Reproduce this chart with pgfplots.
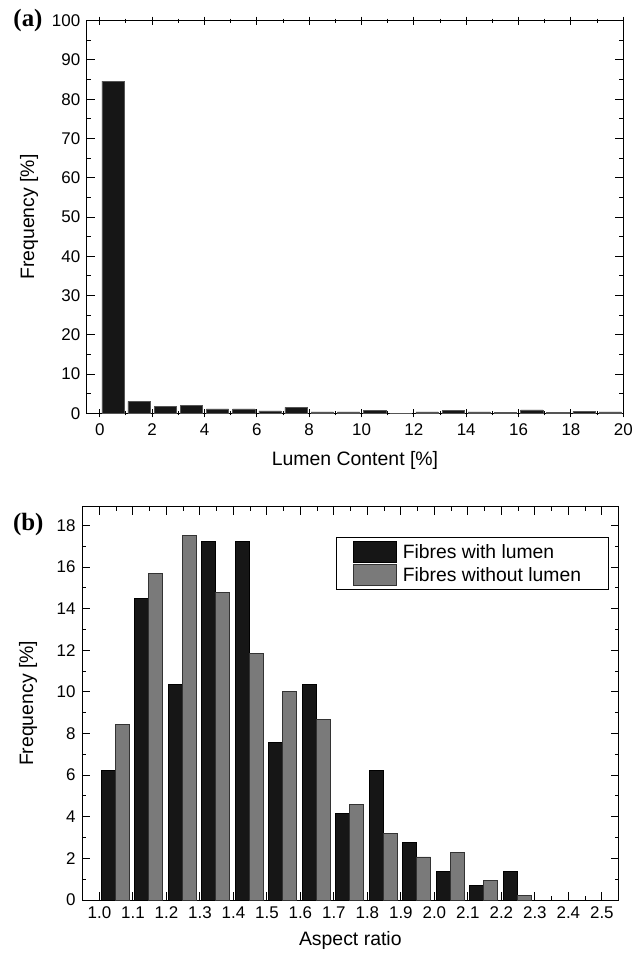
\documentclass[border=0pt]{standalone}
\usepackage{pgfplots}
\pgfplotsset{compat=1.18}
\usepackage{fontspec}
\setmainfont{Liberation Sans}
\newfontfamily\serifbf{Liberation Serif}
\definecolor{barblack}{HTML}{161616}
\definecolor{bargray}{HTML}{7A7A7A}
\definecolor{edgegray}{HTML}{555555}

\pgfplotsset{
  common/.style={
    scale only axis,
    width=536.6bp,
    axis line style={line width=1bp},
    tick pos=both,
    major tick length=8bp, minor tick length=4bp,
    every tick/.style={black, line width=1bp},
    tick label style={font=\fontsize{17}{17}\selectfont},
    /pgf/number format/assume math mode=true,
    yticklabel style={xshift=-3bp},
  }
}

\begin{document}
\begin{tikzpicture}
\path[use as bounding box] (0bp,0bp) rectangle (644bp,-956bp);

% ---------------- panel (a)
\begin{axis}[
  common,
  at={(86.7bp,-413.3bp)}, anchor=south west,
  height=392.6bp,
  xmin=-0.5, xmax=20, ymin=0, ymax=100,
  xtick={0,2,...,20}, minor xtick={1,3,...,19},
  ytick={0,10,...,100}, minor ytick={5,15,...,95},
  xtick align=center, ytick align=inside,
  xticklabel style={yshift=-3bp},
  xlabel={Lumen Content [\%]},
  ylabel={Frequency [\%]},
  every axis x label/.style={at={(rel axis cs:0.5,0)}, anchor=center, yshift=-47bp,
      font=\fontsize{19.5}{20}\selectfont},
  every axis y label/.style={at={(rel axis cs:0,0.5)}, anchor=center, xshift=-57.7bp, rotate=90,
      font=\fontsize{19.5}{20}\selectfont},
]
\addplot[ybar, bar width=0.85, bar shift=0pt, fill=barblack, draw=edgegray, line width=0.5bp]
coordinates {
(0.5,84.64) (1.5,3.05) (2.5,1.78) (3.5,1.93) (4.5,1.10) (5.5,1.10) (6.5,0.60)
(7.5,1.50) (8.5,0.35) (9.5,0.35) (10.5,0.75) (11.5,0) (12.5,0.35) (13.5,0.75)
(14.5,0.35) (15.5,0.30) (16.5,0.90) (17.5,0.25) (18.5,0.50) (19.5,0.35)
};
\end{axis}
\node[font=\serifbf\bfseries\fontsize{25}{25}\selectfont] at (28bp,-20.7bp) {(a)};

% ---------------- panel (b)
\begin{axis}[
  common,
  at={(82bp,-900bp)}, anchor=south west,
  height=393.3bp,
  xmin=0.948, xmax=2.55, ymin=0, ymax=18.9,
  xtick={1,1.1,1.2,1.3,1.4,1.5,1.6,1.7,1.8,1.9,2,2.1,2.2,2.3,2.4,2.5},
  xticklabels={1.0,1.1,1.2,1.3,1.4,1.5,1.6,1.7,1.8,1.9,2.0,2.1,2.2,2.3,2.4,2.5},
  minor xtick={1.05,1.15,1.25,1.35,1.45,1.55,1.65,1.75,1.85,1.95,2.05,2.15,2.25,2.35,2.45},
  ytick={0,2,...,18}, minor ytick={1,3,...,17},
  tick align=inside,
  xticklabel style={yshift=-3bp},
  xlabel={Aspect ratio},
  ylabel={Frequency [\%]},
  every axis x label/.style={at={(rel axis cs:0.5,0)}, anchor=center, yshift=-40bp,
      font=\fontsize{19.5}{20}\selectfont},
  every axis y label/.style={at={(rel axis cs:0,0.5)}, anchor=center, xshift=-54bp, rotate=90,
      font=\fontsize{19.5}{20}\selectfont},
  legend style={at={(1,1)}, anchor=north east, xshift=-9.4bp, yshift=-30bp,
    draw=black, line width=0.8bp, fill=white,
    font=\fontsize{19.4}{20}\selectfont,
    inner xsep=0bp, inner ysep=4bp, row sep=1.5bp,
    nodes={inner sep=0bp}},
  legend cell align=left,
  legend image code/.code={%
    \path (0bp,0bp);
    \draw[#1] (16.7bp,-10.4bp) rectangle (59.7bp,10.4bp);
    \path (65.7bp,0bp);},
]
\addplot[ybar, bar width=0.042, bar shift=0pt, fill=barblack, draw=black, line width=0.8bp]
coordinates {
(1.026,6.21) (1.126,14.48) (1.226,10.34) (1.326,17.24) (1.426,17.24) (1.526,7.59)
(1.626,10.34) (1.726,4.14) (1.826,6.21) (1.926,2.76) (2.026,1.38) (2.126,0.69) (2.226,1.38)
};
\addlegendentry{\makebox[206bp][l]{Fibres with lumen}}
\addplot[ybar, bar width=0.042, bar shift=0pt, fill=bargray, draw=black!80, line width=0.8bp]
coordinates {
(1.068,8.43) (1.168,15.70) (1.268,17.53) (1.368,14.79) (1.468,11.83) (1.568,10.02)
(1.668,8.67) (1.768,4.58) (1.868,3.20) (1.968,2.07) (2.068,2.28) (2.168,0.93) (2.268,0.24)
};
\addlegendentry{\makebox[206bp][l]{Fibres without lumen}}
\end{axis}
\node[font=\serifbf\bfseries\fontsize{25}{25}\selectfont] at (28.3bp,-524.3bp) {(b)};
\end{tikzpicture}
\end{document}
